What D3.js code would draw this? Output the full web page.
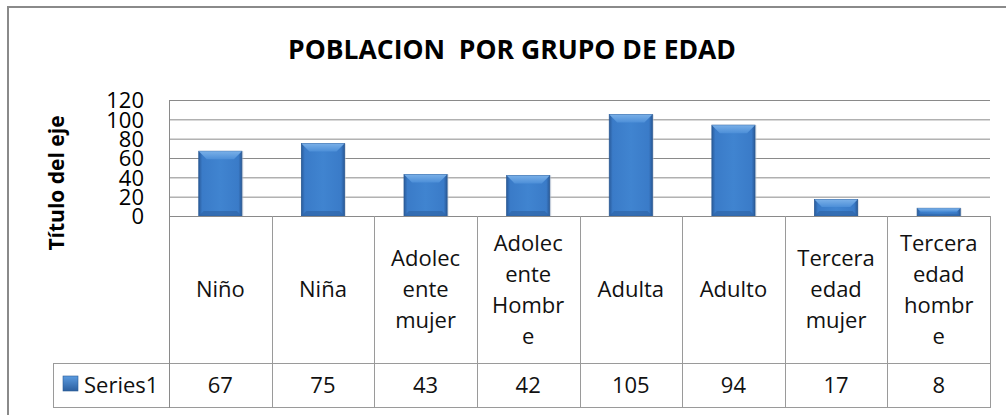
<!DOCTYPE html>
<html><head><meta charset="utf-8">
<script src="https://cdnjs.cloudflare.com/ajax/libs/d3/7.8.5/d3.min.js"></script>
<style>html,body{margin:0;padding:0;background:#fff;}svg{display:block;}</style>
</head><body>
<svg id="c" width="1006" height="415"></svg>
<script>
const chartTitle = "POBLACION  POR GRUPO DE EDAD";
const axisTitle = "Título del eje";
const seriesName = "Series1";
const categories = ["Niño","Niña","Adolecente mujer","Adolecente Hombre","Adulta","Adulto","Tercera edad mujer","Tercera edad hombre"];
const values = [67,75,43,42,105,94,17,8];
const yTicks = [0,20,40,60,80,100,120];

const svg = d3.select("#c");
const FONT = "'Open Sans', 'Liberation Sans', Arial, sans-serif";
const W = 1006, H = 415;
const plot = {left:169, right:990, top:100, bottom:216};
const tableRow1Bottom = 363, tableBottom = 407, legendLeft = 53;

const x = d3.scaleBand().domain(categories).range([plot.left, plot.right]).padding(0);
const y = d3.scaleLinear().domain([0,120]).range([plot.bottom, plot.top]);

// defs
const defs = svg.append("defs");
const g1 = defs.append("linearGradient").attr("id","barH").attr("x1","0").attr("x2","1").attr("y1","0").attr("y2","0");
[["0%","#2a5c9c"],["8%","#3a7bc8"],["50%","#4084d0"],["92%","#3a7bc8"],["100%","#2a5a98"]].forEach(s=>g1.append("stop").attr("offset",s[0]).attr("stop-color",s[1]));
const g2 = defs.append("linearGradient").attr("id","barTop").attr("x1","0").attr("x2","0").attr("y1","0").attr("y2","1");
[["0%","#7ab0e8"],["100%","#4d8fd8"]].forEach(s=>g2.append("stop").attr("offset",s[0]).attr("stop-color",s[1]));
const g3 = defs.append("linearGradient").attr("id","key").attr("x1","0").attr("x2","0").attr("y1","0").attr("y2","1");
[["0%","#5b9be0"],["100%","#2c5f9f"]].forEach(s=>g3.append("stop").attr("offset",s[0]).attr("stop-color",s[1]));

// outer border
svg.append("path").attr("d",`M8,${H} L8,7 L${W},7`).attr("fill","none").attr("stroke","#8a8a8a").attr("stroke-width",2);

// title
svg.append("text").attr("x",512).attr("y",59).attr("text-anchor","middle").style("white-space","pre")
  .attr("font-family",FONT).attr("font-weight","bold").attr("font-size",26.5).attr("fill","#000").text(chartTitle);

// axis title
svg.append("text").attr("transform","translate(64,183) rotate(-90)").attr("text-anchor","middle")
  .attr("font-family",FONT).attr("font-weight","bold").attr("font-size",21).attr("fill","#000").text(axisTitle);

// gridlines
svg.append("g").selectAll("line").data(yTicks).join("line")
  .attr("x1",plot.left).attr("x2",plot.right).attr("y1",d=>y(d)+0.5).attr("y2",d=>y(d)+0.5)
  .attr("stroke","#8a8a8a").attr("stroke-width",1);

// y axis labels
const yAxis = d3.axisLeft(y).tickValues(yTicks).tickSize(0).tickPadding(0);
const ya = svg.append("g").attr("transform",`translate(144,0)`).call(yAxis);
ya.select(".domain").remove();
ya.selectAll("text").attr("font-family",FONT).attr("font-size",22).attr("fill","#000").attr("dy","0.36em");

// bars
const bw = x.step()*0.42;
const bars = svg.append("g").selectAll("g").data(values).join("g")
  .attr("transform",(d,i)=>`translate(${x(categories[i]) + (x.step()-bw)/2},${y(d)})`);
bars.append("rect").attr("x",1.5).attr("y",0).attr("width",bw).attr("height",d=>plot.bottom-y(d))
  .attr("fill","#bfc7d2").attr("opacity",0.5);
bars.append("rect").attr("width",bw).attr("height",d=>plot.bottom-y(d))
  .attr("fill","url(#barH)").attr("stroke","#2b5a94").attr("stroke-width",0.8);
bars.append("path").attr("d",d=>{
  const h = plot.bottom-y(d); const b = Math.min(8, h*0.45); const inset = Math.min(8,b);
  return `M0,0 L${bw},0 L${bw-inset},${b} L${inset},${b} Z`;
}).attr("fill","url(#barTop)");
bars.append("path").attr("d",d=>{
  const h = plot.bottom-y(d); const b = Math.min(5, h*0.3);
  return `M0,${h} L${bw},${h} L${bw-b},${h-b} L${b},${h-b} Z`;
}).attr("fill","#2f65a8").attr("opacity",0.7);

// table lines
const tl = svg.append("g").attr("stroke","#9a9a9a").attr("stroke-width",1).attr("fill","none");
tl.append("line").attr("x1",plot.left).attr("x2",plot.right).attr("y1",plot.bottom+0.5).attr("y2",plot.bottom+0.5).attr("stroke","#8a8a8a");
tl.append("line").attr("x1",legendLeft).attr("x2",plot.right).attr("y1",tableRow1Bottom+0.5).attr("y2",tableRow1Bottom+0.5);
tl.append("line").attr("x1",legendLeft).attr("x2",plot.right).attr("y1",tableBottom+0.5).attr("y2",tableBottom+0.5);
tl.append("line").attr("x1",legendLeft+0.5).attr("x2",legendLeft+0.5).attr("y1",tableRow1Bottom).attr("y2",tableBottom+1);
tl.append("line").attr("x1",plot.left+0.5).attr("x2",plot.left+0.5).attr("y1",plot.top).attr("y2",tableBottom+1).attr("stroke","#8a8a8a");
categories.forEach((c,i)=>{
  const xx = x(c)+x.step();
  tl.append("line").attr("x1",Math.round(xx)+0.5).attr("x2",Math.round(xx)+0.5).attr("y1",plot.bottom).attr("y2",tableBottom+1);
});

// category labels with wrapping
const catFont = 22, maxW = 79.5, lineH = 31;
const measure = svg.append("text").attr("font-family",FONT).attr("font-size",catFont).attr("visibility","hidden");
function tw(s){ measure.text(s); return measure.node().getComputedTextLength(); }
function wrap(label){
  const words = label.split(" "); const lines = []; let cur = "";
  words.forEach(w=>{
    let cand = cur ? cur+" "+w : w;
    if (tw(cand) <= maxW) { cur = cand; return; }
    if (cur) { lines.push(cur); cur = ""; }
    while (tw(w) > maxW) {
      let k = w.length;
      while (k>1 && tw(w.slice(0,k))>maxW) k--;
      lines.push(w.slice(0,k)); w = w.slice(k);
    }
    cur = w;
  });
  if (cur) lines.push(cur);
  return lines;
}
const midRow1 = (plot.bottom + tableRow1Bottom)/2;
categories.forEach(c=>{
  const lines = wrap(c);
  const t = svg.append("text").attr("font-family",FONT).attr("font-size",catFont).attr("fill","#111").attr("text-anchor","middle");
  lines.forEach((ln,j)=>{
    t.append("tspan").attr("x",x(c)+x.step()/2)
      .attr("y", midRow1 + (j-(lines.length-1)/2)*lineH + catFont*0.36).text(ln);
  });
});
measure.remove();

// values row
const midRow2 = (tableRow1Bottom + tableBottom)/2;
svg.append("g").selectAll("text").data(values).join("text")
  .attr("x",(d,i)=>x(categories[i])+x.step()/2).attr("y",midRow2+catFont*0.36)
  .attr("text-anchor","middle").attr("font-family",FONT).attr("font-size",catFont).attr("fill","#111").text(d=>d);

// legend key + name
svg.append("rect").attr("x",63).attr("y",376).attr("width",15).attr("height",15).attr("fill","url(#key)").attr("stroke","#2b5a94").attr("stroke-width",0.6);
svg.append("text").attr("x",84).attr("y",midRow2+catFont*0.36).attr("font-family",FONT).attr("font-size",catFont).attr("fill","#111").text(seriesName);
</script>
</body></html>
